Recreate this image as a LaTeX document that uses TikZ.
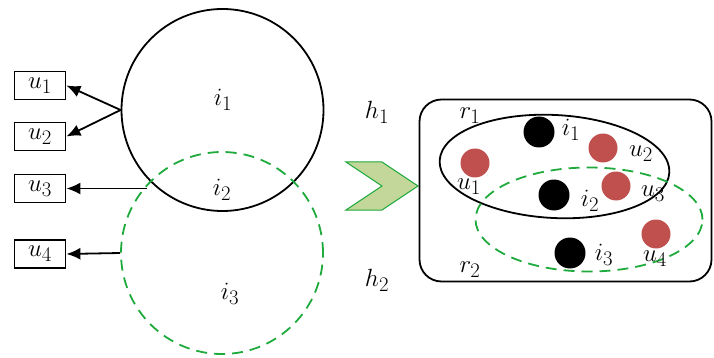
\documentclass[tikz,border=0pt]{standalone}
\usetikzlibrary{arrows.meta,shapes.geometric}
\definecolor{dgreen}{RGB}{30,170,60}
\definecolor{chevfill}{RGB}{196,215,155}
\definecolor{dred}{RGB}{192,80,77}
\tikzset{
  lbl/.style={font=\fontsize{24.88}{30}\selectfont, inner sep=0pt},
  ubox/.style={draw, line width=1.8pt, minimum width=51pt, minimum height=28pt, inner sep=0pt, font=\fontsize{24.88}{30}\selectfont},
  bigc/.style={circle, draw, line width=1.8pt, minimum size=202pt, inner sep=0pt},
  gdash/.style={draw=dgreen, line width=1.8pt, dash pattern=on 11pt off 7pt},
  arr/.style={line width=1.8pt, -{Latex[length=14pt,width=12pt]}},
  bdot/.style={circle, fill=black, minimum size=31pt, inner sep=0pt},
  rdot/.style={circle, fill=dred, minimum size=29pt, inner sep=0pt},
  ell/.style={ellipse, line width=1.8pt, inner sep=0pt}
}
\begin{document}
\begin{tikzpicture}[x=1pt,y=-1pt]
\useasboundingbox (0,0) rectangle (714,358);
% left part
\node[bigc] (c1) at (222.5,110) {};
\node[bigc, gdash] (c2) at (222,253) {};
\node[ubox] (u1) at (40,85.5) {$u_1$};
\node[ubox] (u2) at (40,136.5) {$u_2$};
\node[ubox] (u3) at (40,188.5) {$u_3$};
\node[ubox] (u4) at (40,254) {$u_4$};
\coordinate (s3) at (147,188.5);
\draw[arr] (c1.west) -- (u1.east);
\draw[arr] (c1.west) -- (u2.east);
\draw[arr] (s3) -- (u3.east);
\draw[arr] (c2.west) -- (u4.east);
\node[lbl] (li1) at (223,100) {$i_1$};
\node[lbl] (li2) at (222,190) {$i_2$};
\node[lbl] (li3) at (230,294) {$i_3$};
\node[lbl] (h1) at (377,112) {$h_1$};
\node[lbl] (h2) at (377,280) {$h_2$};
% chevron
\draw[dgreen, fill=chevfill, line width=1pt] (346,162) -- (382,162) -- (418,186) -- (382,210) -- (346,210) -- (382,186) -- cycle;
% right part
\node[draw, line width=1.8pt, rounded corners=22pt, minimum width=292pt, minimum height=182pt, inner sep=0pt] (box) at (565.5,190.5) {};
\node[ell, draw, rotate=-3, minimum width=230pt, minimum height=103pt] (r1e) at (554.5,166.5) {};
\node[ell, gdash, minimum width=227pt, minimum height=104pt] (r2e) at (589,219.5) {};
\node[bdot] (d1) at (539,132) {};
\node[bdot] (d2) at (554,195) {};
\node[bdot] (d3) at (570,253) {};
\node[rdot] (e1) at (475,163) {};
\node[rdot] (e2) at (603,148) {};
\node[rdot] (e3) at (616,186) {};
\node[rdot] (e4) at (656,234) {};
\node[lbl] (ri1) at (571,130) {$i_1$};
\node[lbl] (ri2) at (590,201) {$i_2$};
\node[lbl] (ri3) at (604,255) {$i_3$};
\node[lbl] (ru1) at (469,187) {$u_1$};
\node[lbl] (ru2) at (641,154) {$u_2$};
\node[lbl] (ru3) at (653,194) {$u_3$};
\node[lbl] (ru4) at (655,259) {$u_4$};
\node[lbl] (r1) at (470,116) {$r_1$};
\node[lbl] (r2) at (470,270) {$r_2$};
\end{tikzpicture}
\end{document}
